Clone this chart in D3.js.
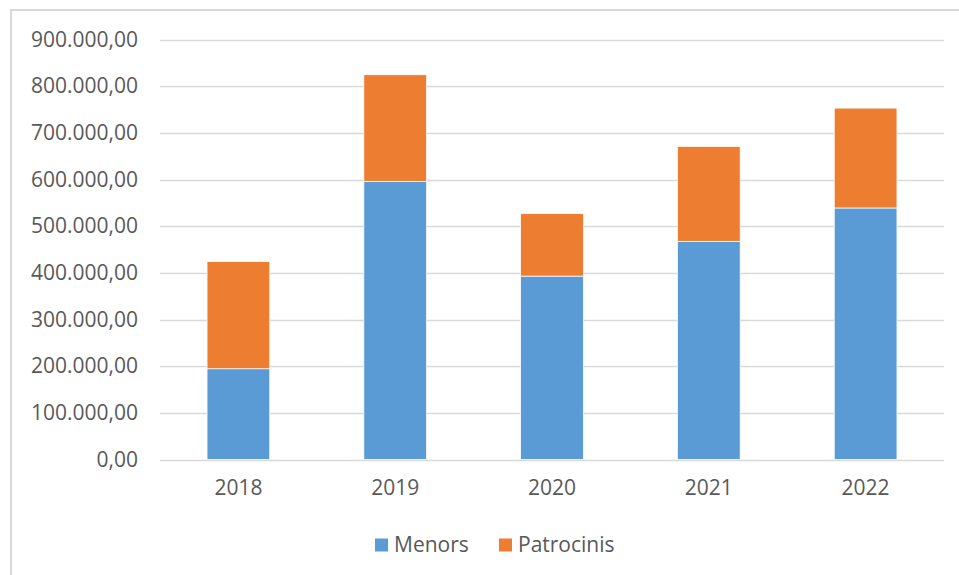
<!DOCTYPE html>
<html>
<head>
<meta charset="utf-8">
<script src="https://cdnjs.cloudflare.com/ajax/libs/d3/7.8.5/d3.min.js"></script>
<style>
  body { margin: 0; background: #fff; }
  text { font-family: "Open Sans", sans-serif; fill: #595959; }
</style>
</head>
<body>
<div id="main"></div>
<script>
// data
var years = ["2018", "2019", "2020", "2021", "2022"];
var menors = [194500, 596000, 393000, 467500, 539000];
var patrocinis = [229500, 228500, 134000, 203500, 214000];
var seriesNames = ["Menors", "Patrocinis"];
var yTicks = [0, 100000, 200000, 300000, 400000, 500000, 600000, 700000, 800000, 900000];

var W = 959, H = 575;
var margin = { top: 39.5, left: 160, right: 15, bottom: 115.5 };
var colors = { Menors: "#5B9BD5", Patrocinis: "#ED7D31" };
var fontSize = "21px";

var svg = d3.select("#main")
	.append("svg")
	.attr("width", W)
	.attr("height", H);

// chart area border (cut off on right and bottom)
svg.append("rect")
	.attr("x", 11).attr("y", 10)
	.attr("width", 1200).attr("height", 1200)
	.attr("fill", "none")
	.attr("stroke", "#d9d9d9")
	.attr("stroke-width", 2);

var x = d3.scaleBand()
	.domain(years)
	.range([margin.left, W - margin.right])
	.paddingInner(0.6)
	.paddingOuter(0.3);

var y = d3.scaleLinear()
	.domain([0, 900000])
	.range([H - margin.bottom, margin.top]);

// format like 900.000,00
var locale = d3.formatLocale({ decimal: ",", thousands: ".", grouping: [3], currency: ["", ""] });
var fmt = locale.format(",.2f");

// gridlines
svg.append("g")
	.selectAll("line")
	.data(yTicks)
	.enter()
	.append("line")
	.attr("x1", margin.left)
	.attr("x2", W - margin.right)
	.attr("y1", function(d) { return Math.round(y(d)) + 0.5; })
	.attr("y2", function(d) { return Math.round(y(d)) + 0.5; })
	.attr("stroke", "#d9d9d9")
	.attr("stroke-width", 1.3);

// y axis labels
var yAxis = d3.axisLeft(y)
	.tickValues(yTicks)
	.tickFormat(fmt)
	.tickSize(0)
	.tickPadding(22);

var yg = svg.append("g")
	.attr("transform", "translate(" + margin.left + ",0)")
	.call(yAxis);
yg.select(".domain").remove();
yg.selectAll("text")
	.style("font-size", fontSize)
	.style("font-family", "'Open Sans', sans-serif")
	.attr("fill", "#595959");

// stacked bars
var rows = years.map(function(yr, i) {
	return { year: yr, Menors: menors[i], Patrocinis: patrocinis[i] };
});
var stack = d3.stack().keys(seriesNames)(rows);

svg.append("g")
	.selectAll("g")
	.data(stack)
	.enter()
	.append("g")
	.attr("fill", function(d) { return colors[d.key]; })
	.selectAll("rect")
	.data(function(d) { return d; })
	.enter()
	.append("rect")
	.attr("x", function(d) { return x(d.data.year); })
	.attr("width", x.bandwidth())
	.attr("y", function(d) { return y(d[1]); })
	.attr("height", function(d) { return y(d[0]) - y(d[1]); })
	.attr("stroke", "#fff")
	.attr("stroke-width", 0.75);

// x axis labels
var xAxis = d3.axisBottom(x)
	.tickSize(0)
	.tickPadding(21);

var xg = svg.append("g")
	.attr("transform", "translate(0," + (H - margin.bottom) + ")")
	.call(xAxis);
xg.select(".domain").remove();
xg.selectAll("text")
	.style("font-size", fontSize)
	.style("font-family", "'Open Sans', sans-serif")
	.attr("fill", "#595959");

// legend
var legendX = [375, 499];
var legend = svg.append("g")
	.selectAll("g")
	.data(seriesNames)
	.enter()
	.append("g")
	.attr("transform", function(d, i) { return "translate(" + legendX[i] + ",545)"; });

legend.append("rect")
	.attr("x", 0).attr("y", -6.5)
	.attr("width", 13).attr("height", 13)
	.attr("fill", function(d) { return colors[d]; });

legend.append("text")
	.attr("x", 19)
	.attr("dy", "0.35em")
	.style("font-size", fontSize)
	.text(function(d) { return d; });
</script>
</body>
</html>
